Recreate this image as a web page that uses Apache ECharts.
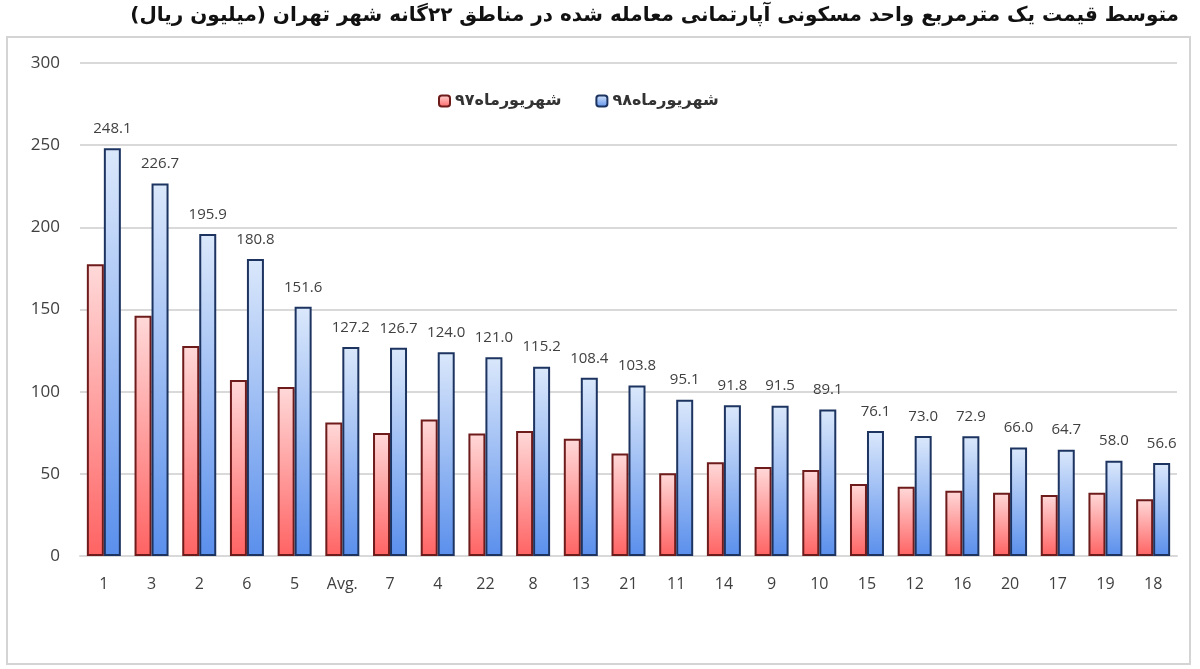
<!DOCTYPE html>
<html><head><meta charset="utf-8">
<script src="https://cdn.jsdelivr.net/npm/echarts@6/dist/echarts.min.js"></script>
<style>html,body{margin:0;padding:0;background:#fff}#c{width:1200px;height:669px}</style>
</head><body><div id="c"></div>
<script>
const titleText = 'متوسط قیمت یک مترمربع واحد مسکونی آپارتمانی معامله شده در مناطق ۲۲گانه شهر تهران (میلیون ریال)';
const categories = ['1','3','2','6','5','Avg.','7','4','22','8','13','21','11','14','9','10','15','12','16','20','17','19','18'];
const seriesNames = ['شهریورماه۹۷','شهریورماه۹۸'];
const values97 = [177.6,146.2,127.8,107.1,102.9,81.2,74.9,83.1,74.6,76.0,71.3,62.4,50.3,57.0,54.1,52.3,43.8,42.1,39.7,38.5,37.1,38.5,34.5];
const values98 = [248.1,226.7,195.9,180.8,151.6,127.2,126.7,124.0,121.0,115.2,108.4,103.8,95.1,91.8,91.5,89.1,76.1,73.0,72.9,66.0,64.7,58.0,56.6];
const yTicks = {min:0, max:300, interval:50};

const chart = echarts.init(document.getElementById('c'));
const grad = (top, bottom) => new echarts.graphic.LinearGradient(0,0,0,1,[{offset:0,color:top},{offset:1,color:bottom}]);
chart.setOption({
  animation:false,
  backgroundColor:'#ffffff',
  title:{text:titleText, right:16, top:1,
    textStyle:{fontFamily:'DejaVu Sans', fontWeight:'bold', fontSize:20, color:'#111'}},
  graphic:[{type:'rect', shape:{x:7,y:37,width:1183,height:627}, style:{fill:'none', stroke:'#d4d4d4', lineWidth:2}, silent:true}],
  legend:{data:seriesNames, left:433, top:88, itemWidth:11, itemHeight:11, itemGap:34,
    textStyle:{fontFamily:'DejaVu Sans', fontSize:16, color:'#333', fontWeight:'bold'}},
  grid:{left:80, right:23, top:63, bottom:113},
  xAxis:{type:'category', data:categories,
    axisLine:{lineStyle:{color:'#d9d9d9', width:2}}, axisTick:{show:false},
    axisLabel:{fontFamily:'Open Sans', fontSize:16, color:'#404040', margin:20}},
  yAxis:{type:'value', min:yTicks.min, max:yTicks.max, interval:yTicks.interval,
    axisLine:{show:false}, axisTick:{show:false},
    splitLine:{lineStyle:{color:'#d9d9d9', width:2}},
    axisLabel:{fontFamily:'Open Sans', fontSize:17, color:'#404040', margin:20}},
  series:[
    {name:seriesNames[0], type:'bar', data:values97, barWidth:17, barGap:'0%',
      itemStyle:{color:grad('#ffd9d9','#ff6363'), borderColor:'#6e1b1b', borderWidth:2}},
    {name:seriesNames[1], type:'bar', data:values98, barWidth:17,
      itemStyle:{color:grad('#dbe8fb','#5a8fec'), borderColor:'#1d3461', borderWidth:2},
      label:{show:true, position:'top', distance:12, formatter:p=>p.value.toFixed(1),
        fontFamily:'Open Sans', fontSize:15, color:'#404040'}}
  ]
});
</script></body></html>
